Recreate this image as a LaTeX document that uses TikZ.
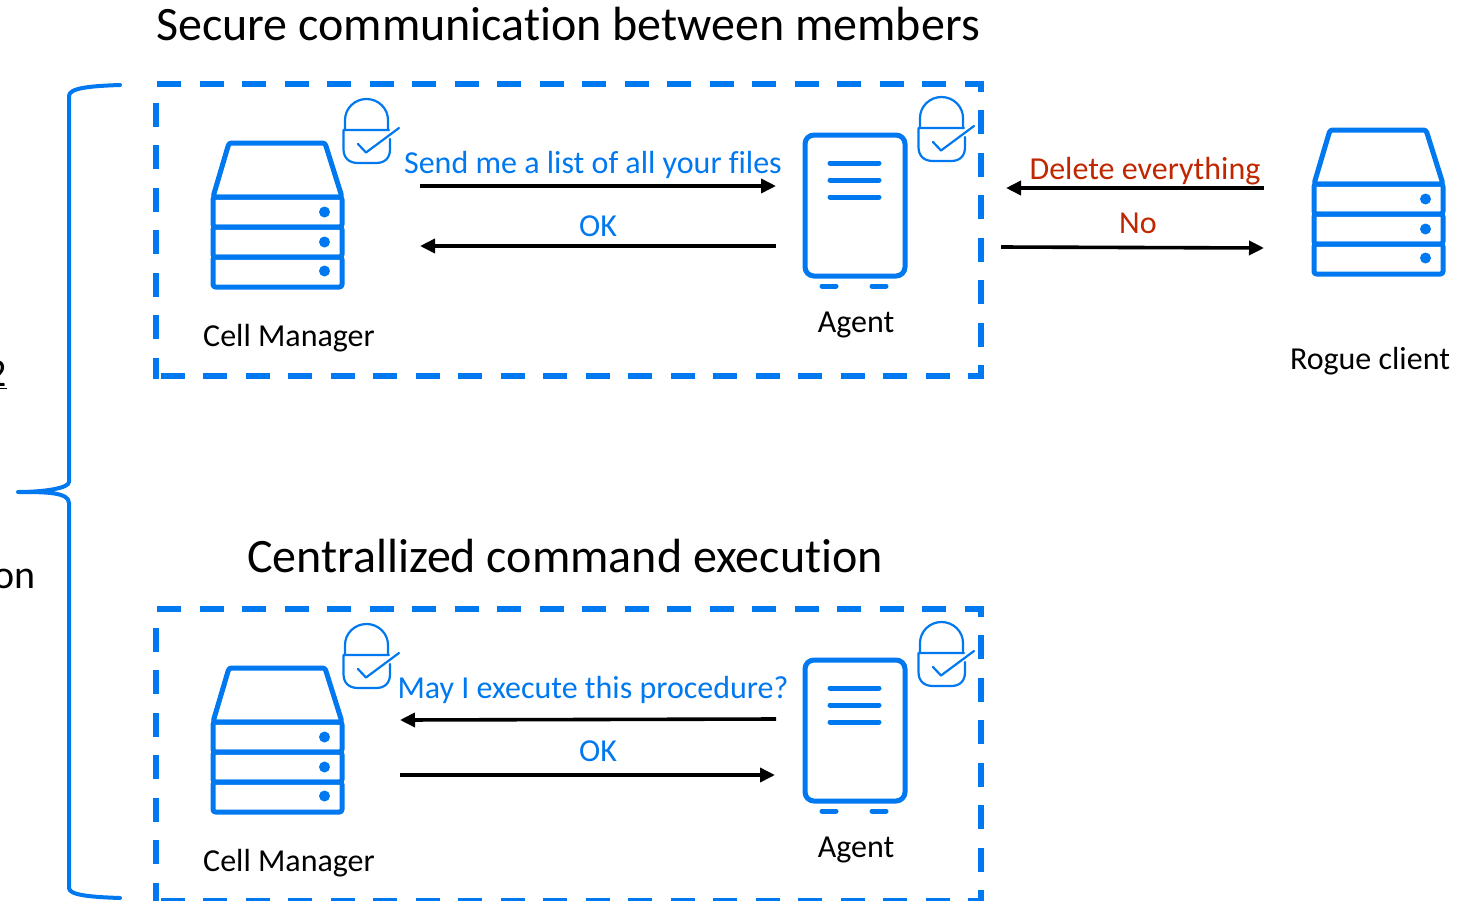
\documentclass[tikz,border=0pt]{standalone}
\usepackage{fontspec}
\setmainfont[Ligatures=NoCommon]{Carlito}
\usetikzlibrary{arrows.meta}
\definecolor{iconblue}{HTML}{0078F0}
\definecolor{alertred}{HTML}{C02600}
\tikzset{
  x=1pt,y=-1pt,
  iconline/.style={draw=iconblue,line width=5pt,line join=round,rounded corners=2.5pt},
  barline/.style={draw=iconblue,line width=5pt,line cap=round},
  lockline/.style={draw=iconblue,line width=2.2pt,line cap=round,line join=round},
  dashbox/.style={draw=iconblue,line width=5.8pt,dash pattern=on 24pt off 18.5pt},
  dashside/.style={draw=iconblue,line width=5.8pt,dash pattern=on 24pt off 18.5pt,dash phase=24pt},
  brace/.style={draw=iconblue,line width=4pt,line cap=round,line join=round},
  msg/.style={draw=black,line width=3.6pt,-{Triangle[length=15pt,width=14pt]}},
  titletext/.style={font=\fontsize{48}{52}\selectfont,text=black,inner sep=0pt},
  nametext/.style={font=\fontsize{32}{36}\selectfont,text=black,inner sep=0pt},
  bluetext/.style={font=\fontsize{32}{36}\selectfont,text=iconblue,inner sep=0pt},
  redtext/.style={font=\fontsize{32}{36}\selectfont,text=alertred,inner sep=0pt},
  serverpic/.pic={
    \draw[iconline] (213,197) -- (229,143) -- (325,143) -- (342,197) -- cycle;
    \draw[iconline] (213,197) rectangle (342,227);
    \draw[iconline] (213,227) rectangle (342,257);
    \draw[iconline] (213,257) rectangle (342,287);
    \fill[iconblue] (324.5,212) circle (5.5pt) (324.5,242) circle (5.5pt) (324.5,271) circle (5.5pt);
  },
  agentpic/.pic={
    \draw[draw=iconblue,line width=5pt,rounded corners=9pt] (805,135) rectangle (905,276);
    \draw[barline] (830,163) -- (879,163);
    \draw[barline] (830,180) -- (879,180);
    \draw[barline] (830,197) -- (879,197);
    \draw[barline] (822,286) -- (836,286);
    \draw[barline] (872,286) -- (886,286);
  },
  lockpic/.pic={
    \draw[lockline] (345,130) -- (345,120) arc[start angle=180,end angle=0,x radius=21.5pt,y radius=21pt] -- (388,130);
    \draw[lockline] (389,130) -- (343.5,130) -- (343.5,149) .. controls (343.5,158) and (349,163) .. (358,163) -- (376,163) .. controls (385,163) and (390,158) .. (390,149) -- (390,139);
    \draw[lockline] (358,144) -- (366,152.5) -- (399,128);
  }
}
\begin{document}
\begin{tikzpicture}
\useasboundingbox (0,0) rectangle (1478,900);
\clip (0,0) rectangle (1478,900);

% left brace
\draw[brace] (120,85) .. controls (90,86) and (69,88) .. (69,96) -- (69,482)
  .. controls (69,488) and (45,492) .. (18,492)
  .. controls (45,492) and (69,492) .. (69,503) -- (69,888)
  .. controls (69,895) and (90,897) .. (120,898);

% dashed boxes
\draw[dashbox] (157,84) -- (981,84) -- (981,376) -- (156,376);
\draw[dashside] (156,84) -- (156,379);
\draw[dashbox] (157,609) -- (981,609) -- (981,901) -- (156,901);
\draw[dashside] (156,609) -- (156,904);

% icons
\pic {serverpic};
\pic[shift={(0,525)}] {serverpic};
\pic[shift={(1101,-13)}] {serverpic};
\pic {agentpic};
\pic[shift={(0,525)}] {agentpic};
\pic {lockpic};
\pic[shift={(575,-2)}] {lockpic};
\pic[shift={(0,525)}] {lockpic};
\pic[shift={(575,523)}] {lockpic};

% titles
\node[titletext] (title1) at (568,24) {Secure communication between members};
\node[titletext] (title2) at (565,556) {Centrallized command execution};

% names
\node[nametext] (cm1) at (289,338) {Cell Manager};
\node[nametext] (ag1) at (856,324.5) {Agent};
\node[nametext] (rc) at (1370,361) {Rogue client};
\node[nametext] (cm2) at (289,863) {Cell Manager};
\node[nametext] (ag2) at (856,849.5) {Agent};

% messages
\node[bluetext] (m1) at (593,165) {Send me a list of all your files};
\node[bluetext] (m2) at (598,226) {OK};
\node[redtext] (m3) at (1145,171) {Delete everything};
\node[redtext] (m4) at (1138,223) {No};
\node[bluetext] (m5) at (593,690) {May I execute this procedure?};
\node[bluetext] (m6) at (598,751) {OK};

% connector ends
\coordinate (a1s) at (420,186); \coordinate (a1e) at (776,186);
\coordinate (a2s) at (776,246); \coordinate (a2e) at (420,246);
\coordinate (a3s) at (1264,188); \coordinate (a3e) at (1006,188);
\coordinate (a4s) at (1001,247); \coordinate (a4e) at (1264,248);
\coordinate (a5s) at (776,719); \coordinate (a5e) at (400,720);
\coordinate (a6s) at (400,775); \coordinate (a6e) at (775,775);
\draw[msg] (a1s) -- (a1e);
\draw[msg] (a2s) -- (a2e);
\draw[msg] (a3s) -- (a3e);
\draw[msg] (a4s) -- (a4e);
\draw[msg] (a5s) -- (a5e);
\draw[msg] (a6s) -- (a6e);

% text cut off at the left edge
\node[anchor=east,font=\fontsize{40}{44}\selectfont,inner sep=0pt] (cut1) at (7,375) {\underline{2}};
\node[anchor=east,font=\fontsize{40}{44}\selectfont,inner sep=0pt] (cut2) at (36,579) {on};
\end{tikzpicture}
\end{document}
